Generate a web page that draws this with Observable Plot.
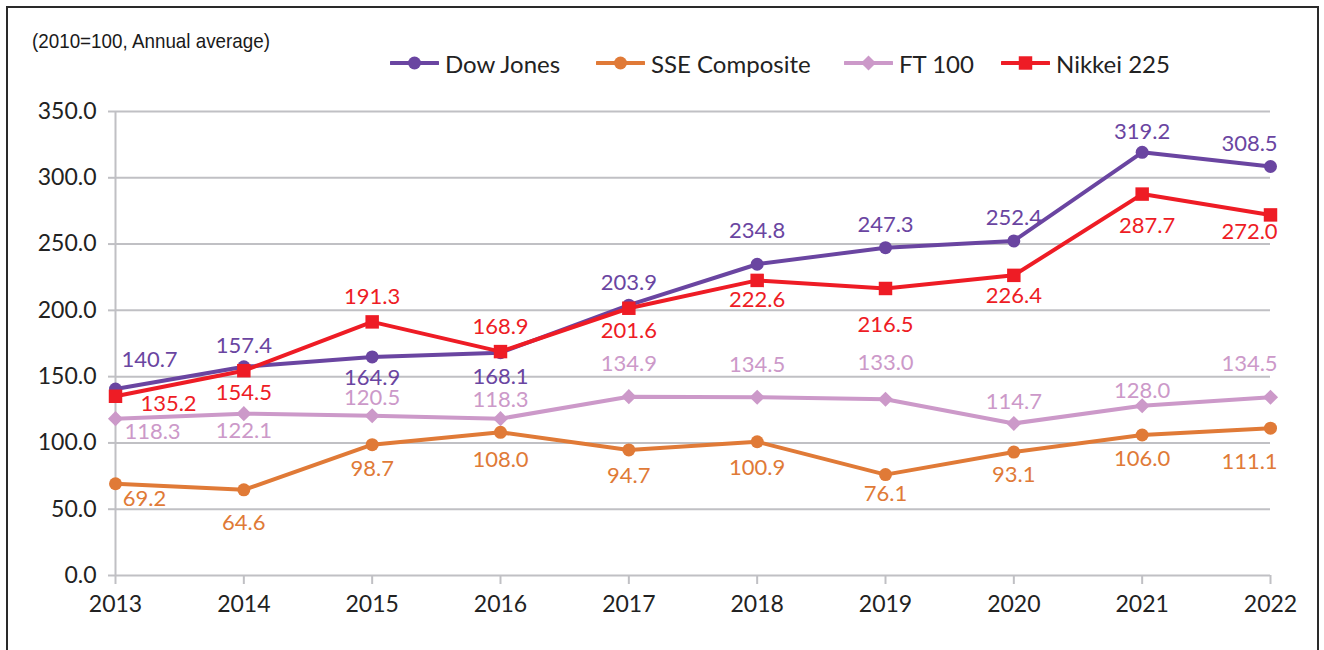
<!DOCTYPE html>
<html>
<head>
<meta charset="utf-8">
<script src="https://cdn.jsdelivr.net/npm/d3@7"></script>
<script src="https://cdn.jsdelivr.net/npm/@observablehq/plot@0.6"></script>
<style>
  html, body { margin: 0; padding: 0; background: #fff; }
  body { width: 1324px; height: 650px; position: relative; overflow: hidden; font-family: Lato, "Open Sans", sans-serif; }
  #frame { position: absolute; left: 6px; top: 6px; width: 1309px; height: 700px; border: 2px solid #2a2a2a; box-sizing: content-box; pointer-events: none; }
  #title { position: absolute; left: 32px; top: 29px; font-family: "Liberation Sans", Arial, sans-serif; font-size: 21px; color: #1a1a1a; white-space: nowrap; transform-origin: 0 50%; }
  .leg { position: absolute; top: 48px; height: 30px; display: flex; align-items: center; font-size: 24px; color: #222; white-space: nowrap; }
  .leg svg { margin-right: 6px; }
  #chart { position: absolute; left: 0; top: 0; }
</style>
</head>
<body>
<div id="chart"></div>
<div id="title"><span>(2010=100, Annual average)</span></div>
<div id="legend"></div>
<div id="frame"></div>
<script>
// ---- data ----
const years = [2013, 2014, 2015, 2016, 2017, 2018, 2019, 2020, 2021, 2022];
const seriesNames = ["Dow Jones", "SSE Composite", "FT 100", "Nikkei 225"];
const dowJones     = [140.7, 157.4, 164.9, 168.1, 203.9, 234.8, 247.3, 252.4, 319.2, 308.5];
const sseComposite = [69.2, 64.6, 98.7, 108.0, 94.7, 100.9, 76.1, 93.1, 106.0, 111.1];
const ft100        = [118.3, 122.1, 120.5, 118.3, 134.9, 134.5, 133.0, 114.7, 128.0, 134.5];
const nikkei225    = [135.2, 154.5, 191.3, 168.9, 201.6, 222.6, 216.5, 226.4, 287.7, 272.0];
const yTicks = [0, 50, 100, 150, 200, 250, 300, 350];

// ---- layout / style (not data) ----
const colors  = ["#6a45a1", "#e07a37", "#cc99c9", "#ee1c25"];
const symbols = ["circle", "circle", "diamond2", "square"];
const radii   = [6.5, 6.5, 6.8, 7.6];
const labelOffsets = [
  [[34,-29],[0,-21],[0,21],[0,24],[0,-22],[0,-33],[0,-23],[0,-23],[0,-20],[-21,-23]],
  [[29,15],[0,33],[0,24],[0,28],[0,26],[0,26],[0,19],[0,23],[0,24],[-21,34]],
  [[37,13],[0,17],[0,-18],[0,-19],[0,-33],[0,-32],[0,-36],[0,-21],[0,-15],[-21,-33]],
  [[53,8],[0,22],[0,-25],[0,-25],[0,23],[0,20],[0,36],[0,21],[5,32],[-21,17]]
];

const valuesList = [dowJones, sseComposite, ft100, nikkei225];
const tables = valuesList.map((vals, s) => years.map((yr, i) => ({year: yr, value: vals[i], series: seriesNames[s]})));

const grid = "#c0c0c4";
const marks = [
  Plot.ruleY(yTicks, {stroke: grid, strokeWidth: 2}),
  Plot.ruleX([years[0]], {y1: yTicks[0], y2: yTicks[yTicks.length - 1], stroke: grid, strokeWidth: 2}),
  Plot.axisY({ticks: yTicks, tickFormat: d3.format(".1f"), tickSize: 7, tickPadding: 12, stroke: grid, strokeWidth: 2, fill: "#222", fontSize: 23, label: null}),
  Plot.axisX({ticks: years, tickFormat: d3.format("d"), tickSize: 9, tickPadding: 11, stroke: grid, strokeWidth: 2, fill: "#222", fontSize: 23, label: null})
];
tables.forEach((t, s) => {
  marks.push(Plot.line(t, {x: "year", y: "value", stroke: colors[s], strokeWidth: 4, strokeLinejoin: "round"}));
  marks.push(Plot.dot(t, {x: "year", y: "value", fill: colors[s], stroke: "none", symbol: symbols[s], r: radii[s]}));
});
tables.forEach((t, s) => {
  t.forEach((d, i) => {
    marks.push(Plot.text([d], {x: "year", y: "value", text: dd => dd.value.toFixed(1), fill: colors[s], fontSize: 22,
      dx: labelOffsets[s][i][0], dy: labelOffsets[s][i][1]}));
  });
});

const chart = Plot.plot({
  width: 1324, height: 650,
  marginLeft: 115, marginRight: 54, marginTop: 111, marginBottom: 75,
  style: {fontFamily: "Lato, 'Open Sans', sans-serif", fontSize: "23px", background: "transparent", color: "#222"},
  x: {domain: [2013, 2022]},
  y: {domain: [0, 350]},
  marks
});
document.getElementById("chart").appendChild(chart);

// condense the title to the reference's width
const titleSpan = document.querySelector("#title span");
const tw = titleSpan.getBoundingClientRect().width;
document.getElementById("title").style.transform = `scaleX(${238 / tw})`;

// ---- legend ----
const legLeft = [390, 596, 844, 1001];
const legend = document.getElementById("legend");
seriesNames.forEach((name, s) => {
  const item = document.createElement("div");
  item.className = "leg";
  item.style.left = legLeft[s] + "px";
  const sym = d3.create("svg").attr("width", 49).attr("height", 30);
  sym.append("line").attr("x1", 1).attr("x2", 48).attr("y1", 15).attr("y2", 15).attr("stroke", colors[s]).attr("stroke-width", 4).attr("stroke-linecap", "round");
  sym.append("path").attr("transform", "translate(24.5,15)")
    .attr("d", d3.symbol(s === 2 ? d3.symbolDiamond2 : s === 3 ? d3.symbolSquare : d3.symbolCircle, Math.PI * radii[s] * radii[s])())
    .attr("fill", colors[s]);
  item.appendChild(sym.node());
  const span = document.createElement("span");
  span.textContent = name;
  item.appendChild(span);
  legend.appendChild(item);
});
</script>
</body>
</html>
